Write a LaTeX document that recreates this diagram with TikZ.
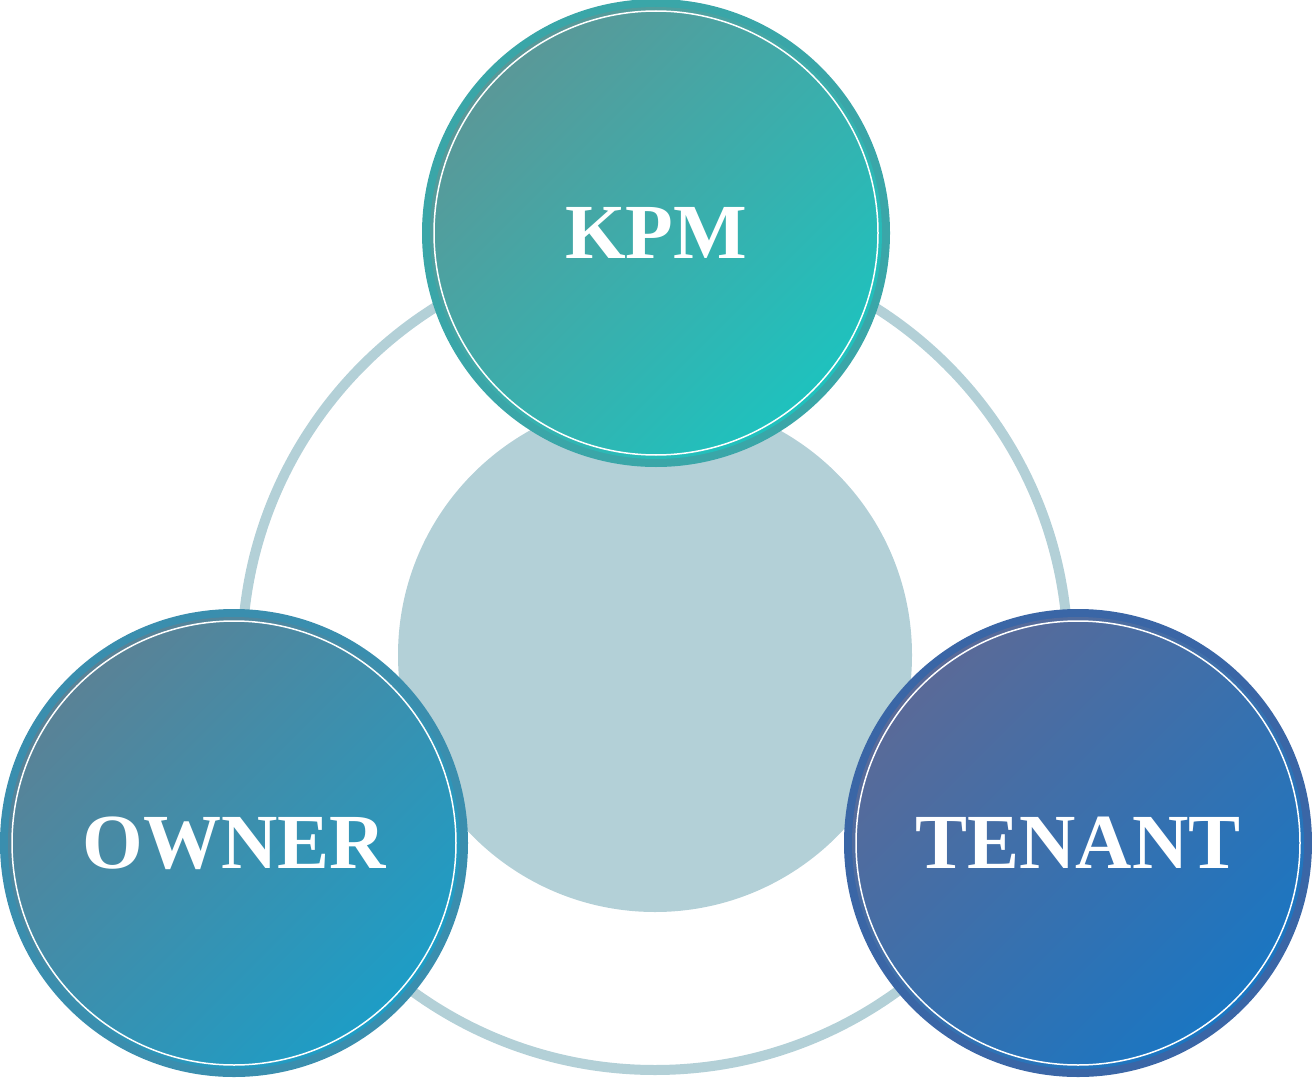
\documentclass[tikz,border=0pt]{standalone}
\usepackage{fontspec}
\setmainfont{Liberation Serif}
\begin{document}
\begin{tikzpicture}[x=1pt,y=-1pt,
  lbl/.style={text=white,font=\fontsize{78}{80}\selectfont\bfseries}]
\useasboundingbox (0,0) rectangle (1312,1078);
\definecolor{ringc}{HTML}{B3D0D7}
\definecolor{kA}{HTML}{5A9898}\definecolor{kB}{HTML}{1EC2BE}\definecolor{kC}{HTML}{3AA6A8}
\definecolor{oA}{HTML}{5A8296}\definecolor{oB}{HTML}{1D9DC6}\definecolor{oC}{HTML}{3A8EAE}
\definecolor{tA}{HTML}{5A6A98}\definecolor{tB}{HTML}{1A76C2}\definecolor{tC}{HTML}{3A66A6}
\draw[ringc,line width=10pt] (655,657) circle[radius=413];
\fill[ringc] (655,655) circle[radius=257];
\foreach \cx/\cy/\A/\B/\C/\nm/\t in {656/233/kA/kB/kC/kpm/KPM,234/843/oA/oB/oC/owner/OWNER,1078/843/tA/tB/tC/tenant/TENANT}{
  \fill[\C] (\cx,\cy) circle[radius=234];
  \shade[shading=axis,top color=\A,bottom color=\B,shading angle=45] (\cx,\cy) circle[radius=226];
  \draw[white,line width=1.5pt] (\cx,\cy) circle[radius=222];
  \node[lbl] (\nm) at (\cx,\cy) {\t};
}
\end{tikzpicture}
\end{document}
